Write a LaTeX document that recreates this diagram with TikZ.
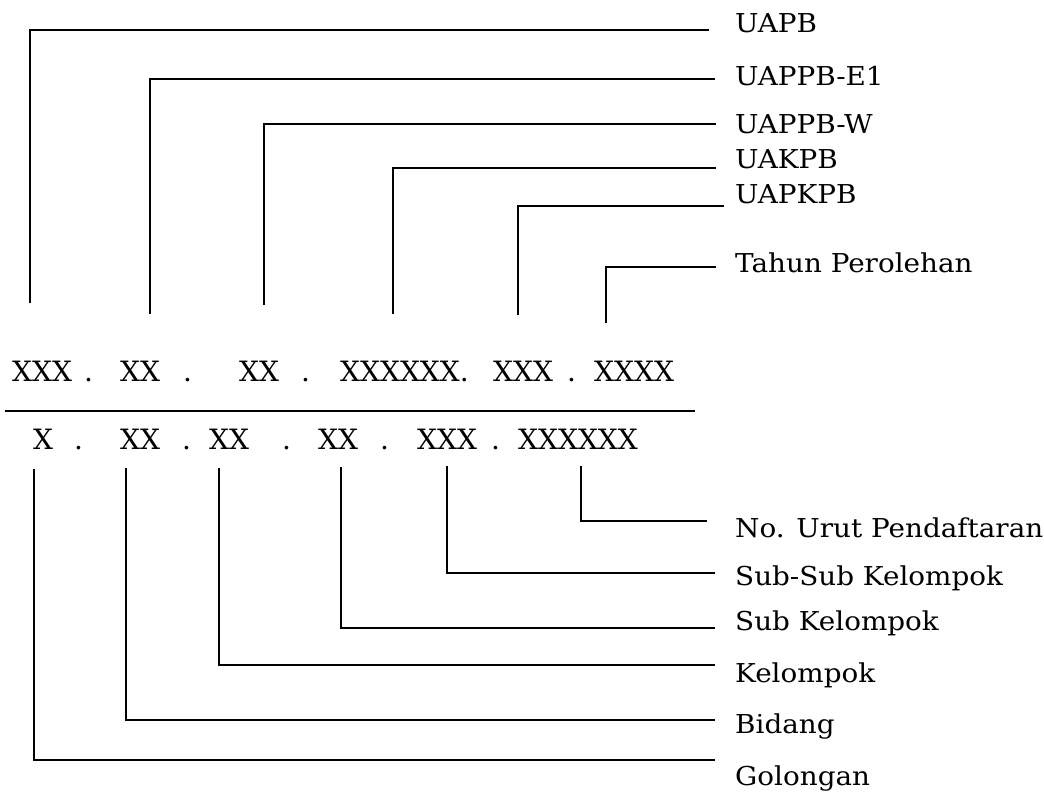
\documentclass[tikz,border=0pt]{standalone}
\usepackage{fontspec}
\usepackage{graphicx}
\setmainfont{DejaVu Serif}
\newcommand{\lbltext}[1]{\scalebox{1.07}[1]{#1}}
\begin{document}
\begin{tikzpicture}[x=1pt,y=-1pt,
  lab/.style={anchor=base west,inner sep=0pt,font=\fontsize{26}{28}\selectfont},
  code/.style={anchor=base west,inner sep=0pt,font=\fontsize{28}{30}\selectfont},
  conn/.style={line width=2pt,line join=miter}]
\useasboundingbox (0,0) rectangle (1044,792);
% top row
\node[code] (r1a) at (12,381) {XXX};
\node[code] (d1a) at (84,381) {.};
\node[code] (r1b) at (120,381) {XX};
\node[code] (d1b) at (183,381) {.};
\node[code] (r1c) at (239,381) {XX};
\node[code] (d1c) at (301,381) {.};
\node[code] (r1d) at (340,381) {XXXXXX.};
\node[code] (r1e) at (493,381) {XXX};
\node[code] (d1e) at (567,381) {.};
\node[code] (r1f) at (594,381) {XXXX};
% separator
\coordinate (sepL) at (5,411);
\coordinate (sepR) at (695,411);
\draw[line width=2.8pt] (sepL) -- (sepR);
% bottom row
\node[code] (r2a) at (33,449) {X};
\node[code] (d2a) at (74,449) {.};
\node[code] (r2b) at (120,449) {XX};
\node[code] (d2b) at (182,449) {.};
\node[code] (r2c) at (209,449) {XX};
\node[code] (d2c) at (282,449) {.};
\node[code] (r2d) at (318,449) {XX};
\node[code] (d2d) at (380,449) {.};
\node[code] (r2e) at (417,449) {XXX};
\node[code] (d2e) at (491,449) {.};
\node[code] (r2f) at (518,449) {XXXXXX};
% top labels
\node[lab] (l1) at (735,33) {\lbltext{UAPB}};
\node[lab] (l2) at (735,85) {\lbltext{UAPPB-E1}};
\node[lab] (l3) at (735,133) {\lbltext{UAPPB-W}};
\node[lab] (l4) at (735,168) {\lbltext{UAKPB}};
\node[lab] (l5) at (735,203) {\lbltext{UAPKPB}};
\node[lab] (l6) at (735,272) {\lbltext{Tahun Perolehan}};
% bottom labels
\node[lab] (b6) at (735,537) {\lbltext{No. Urut Pendaftaran}};
\node[lab] (b5) at (735,585) {\lbltext{Sub-Sub Kelompok}};
\node[lab] (b4) at (735,630) {\lbltext{Sub Kelompok}};
\node[lab] (b3) at (735,682) {\lbltext{Kelompok}};
\node[lab] (b2) at (735,733) {\lbltext{Bidang}};
\node[lab] (b1) at (735,785) {\lbltext{Golongan}};
% top connector ends
\coordinate (t1) at (30,303);   \coordinate (e1) at (709,30);
\coordinate (t2) at (150,314);  \coordinate (e2) at (715,79);
\coordinate (t3) at (264,305);  \coordinate (e3) at (716,124);
\coordinate (t4) at (393,314);  \coordinate (e4) at (716,168);
\coordinate (t5) at (518,315);  \coordinate (e5) at (724,206);
\coordinate (t6) at (606,323);  \coordinate (e6) at (716,267);
\foreach \i in {1,...,6} \draw[conn] (t\i) |- (e\i);
% bottom connector ends
\coordinate (s1) at (34,469);   \coordinate (f1) at (715,760);
\coordinate (s2) at (126,468);  \coordinate (f2) at (715,720);
\coordinate (s3) at (219,468);  \coordinate (f3) at (715,665);
\coordinate (s4) at (341,467);  \coordinate (f4) at (715,628);
\coordinate (s5) at (447,466);  \coordinate (f5) at (715,573);
\coordinate (s6) at (581,466);  \coordinate (f6) at (707,521);
\foreach \i in {1,...,6} \draw[conn] (s\i) |- (f\i);
\end{tikzpicture}
\end{document}
